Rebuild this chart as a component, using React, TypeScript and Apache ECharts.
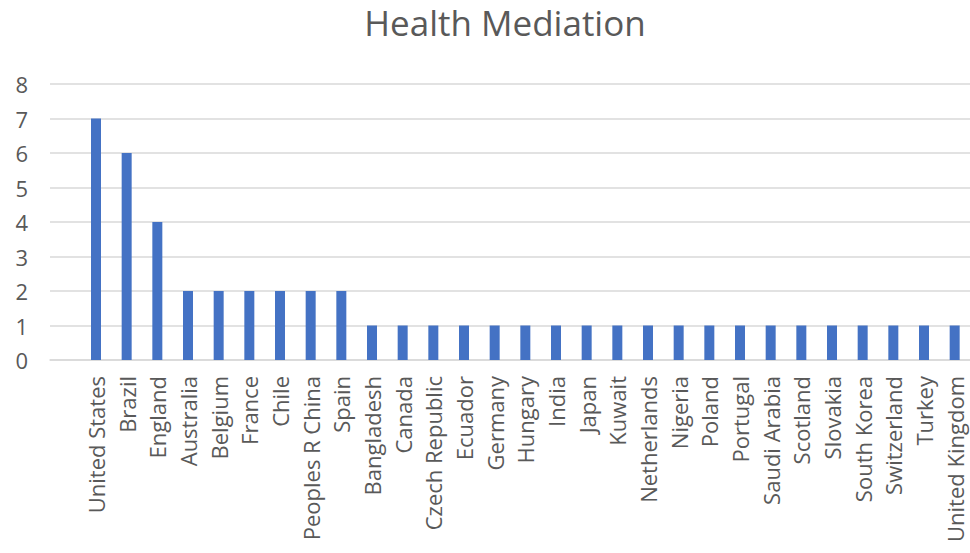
import React, { useEffect, useRef } from "react";
import * as echarts from "echarts";

const categories = [
  "United States", "Brazil", "England", "Australia", "Belgium", "France", "Chile",
  "Peoples R China", "Spain", "Bangladesh", "Canada", "Czech Republic", "Ecuador",
  "Germany", "Hungary", "India", "Japan", "Kuwait", "Netherlands", "Nigeria",
  "Poland", "Portugal", "Saudi Arabia", "Scotland", "Slovakia", "South Korea",
  "Switzerland", "Turkey", "United Kingdom",
];
const values = [7, 6, 4, 2, 2, 2, 2, 2, 2, 1, 1, 1, 1, 1, 1, 1, 1, 1, 1, 1, 1, 1, 1, 1, 1, 1, 1, 1, 1];
const titleText = "Health Mediation";

export default function App() {
  const ref = useRef<HTMLDivElement>(null);
  useEffect(() => {
    document.body.style.margin = "0";
    const chart = echarts.init(ref.current!, null, { renderer: "svg" });
    const font = "'Open Sans', 'Noto Sans', sans-serif";
    chart.setOption({
      animation: false,
      textStyle: { fontFamily: font },
      title: {
        text: titleText,
        left: 500,
        top: 0,
        textAlign: "center",
        textStyle: { fontSize: 35, fontWeight: "normal", color: "#595959", fontFamily: font },
      },
      grid: { left: 50, right: -5, top: 84, bottom: 193, containLabel: false },
      xAxis: {
        type: "category",
        data: categories,
        min: -1,
        axisLine: { show: true, lineStyle: { color: "#d9d9d9", width: 1.5 } },
        axisTick: { show: false },
        axisLabel: {
          rotate: 90,
          interval: 0,
          color: "#595959",
          fontSize: 22,
          margin: 16,
          fontFamily: font,
        },
      },
      yAxis: {
        type: "value",
        min: 0,
        max: 8,
        interval: 1,
        axisLine: { show: false },
        axisTick: { show: false },
        splitLine: { lineStyle: { color: "#d9d9d9", width: 1.5 } },
        axisLabel: { color: "#595959", fontSize: 22, margin: 22, fontFamily: font },
      },
      series: [
        {
          type: "bar",
          data: values,
          barWidth: 10,
          itemStyle: { color: "#4472C4" },
        },
      ],
    });
    return () => chart.dispose();
  }, []);
  return <div ref={ref} style={{ width: 970, height: 553 }} />;
}
